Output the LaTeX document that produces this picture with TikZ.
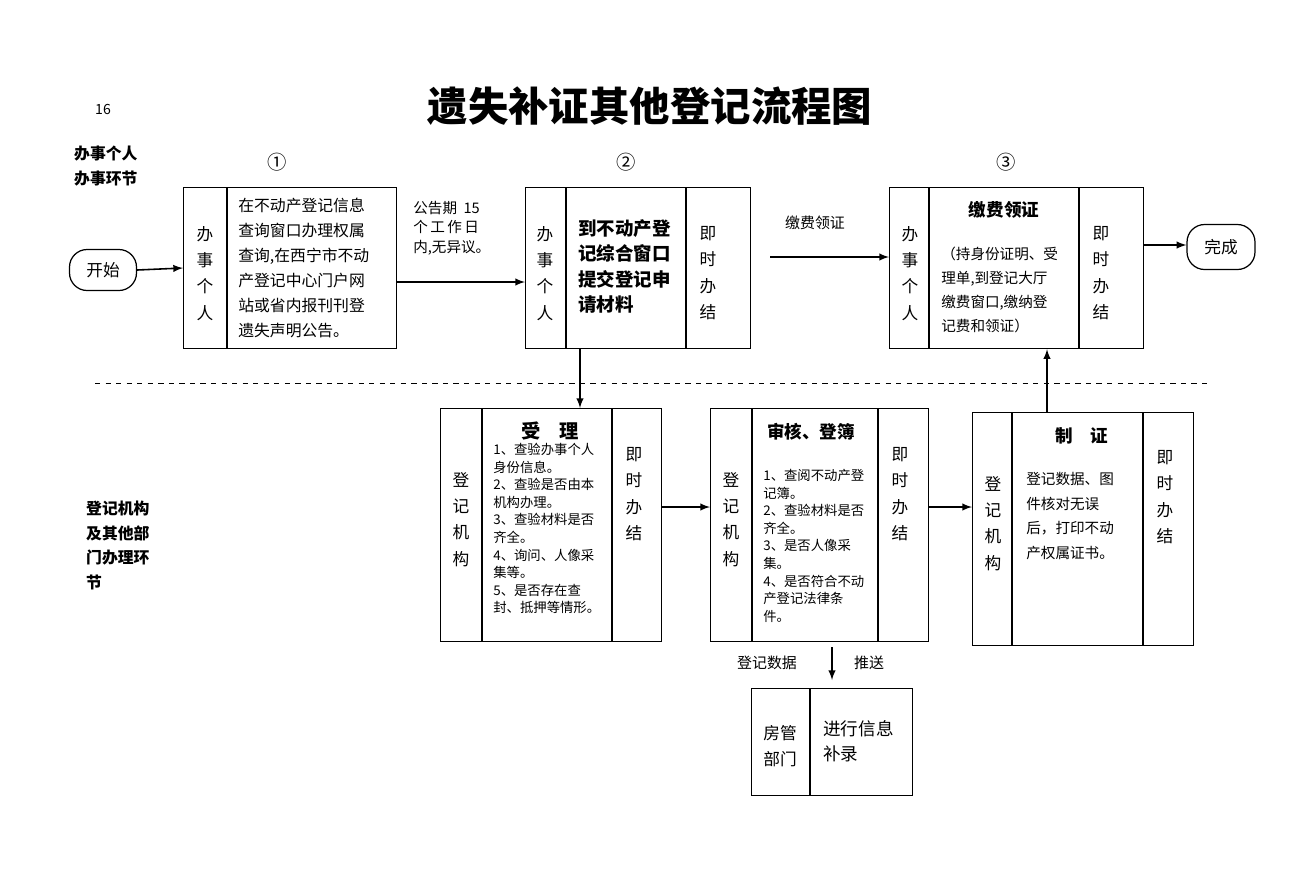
\documentclass[tikz,border=0pt]{standalone}
\usepackage{fontspec}
\setmainfont{Noto Sans CJK SC}
\begin{document}
\begin{tikzpicture}[x=0.02cm,y=-0.02cm,
  box/.style={draw,line width=0.7pt,anchor=north west,inner sep=0pt},
  term/.style={draw,line width=0.7pt,rounded corners=10pt,inner sep=0pt,font=\fontsize{9.5pt}{11pt}\selectfont},
  arr/.style={-latex,line width=0.9pt},
  vt/.style={font=\fontsize{9.5pt}{15pt}\selectfont,align=center,anchor=north},
  bt/.style={font=\fontsize{9pt}{14.2pt}\selectfont,align=left,anchor=north west,inner sep=0pt},
  st/.style={font=\fontsize{7.6pt}{10pt}\selectfont,align=left,anchor=north west,inner sep=0pt},
  hd/.style={font=\bfseries\fontsize{10pt}{12pt}\selectfont,anchor=north}]
\useasboundingbox (0,0) rectangle (1301,873);
\node[font=\bfseries\fontsize{23pt}{26pt}\selectfont] (title) at (650,106) {遗失补证其他登记流程图};
\node[font=\fontsize{8pt}{9pt}\selectfont] (pg) at (103,109) {16};
\node[font=\bfseries\fontsize{9pt}{14pt}\selectfont,align=left,anchor=north west] (l1) at (68,140) {办事个人\\办事环节};
\node[font=\bfseries\fontsize{9pt}{14pt}\selectfont,align=left,anchor=north west] (l2) at (80,495) {登记机构\\及其他部\\门办理环\\节};
\node[font=\fontsize{11pt}{12pt}\selectfont] (n1) at (277,162) {①};
\node[font=\fontsize{11pt}{12pt}\selectfont] (n2) at (626,162) {②};
\node[font=\fontsize{11pt}{12pt}\selectfont] (n3) at (1006,162) {③};
\draw[dashed,line width=0.4pt] (95,383) -- (1208,383);
% terminals
\node[term,minimum width=1.34cm,minimum height=0.82cm] (start) at (103,270) {开始};
\node[term,minimum width=1.36cm,minimum height=0.9cm] (end) at (1221,247) {完成};
% box1
\node[box,minimum width=4.26cm,minimum height=3.22cm] (b1) at (183,187) {};
\draw[line width=0.7pt] (227,187) -- (227,348);
\node[vt] (b1a) at (205,220) {办\\事\\个\\人};
\node[bt] (b1b) at (238,198) {在不动产登记信息\\查询窗口办理权属\\查询,在西宁市不动\\产登记中心门户网\\站或省内报刊刊登\\遗失声明公告。};
% box2
\node[box,minimum width=4.5cm,minimum height=3.22cm] (b2) at (525,187) {};
\draw[line width=0.7pt] (566,187) -- (566,348) (686,187) -- (686,348);
\node[vt] (b2a) at (545,220) {办\\事\\个\\人};
\node[font=\bfseries\fontsize{10.5pt}{14.5pt}\selectfont,align=left,anchor=north west,inner sep=0pt] (b2b) at (578,219) {到不动产登\\记综合窗口\\提交登记申\\请材料};
\node[vt] (b2c) at (708,220) {即\\时\\办\\结};
% box3
\node[box,minimum width=5.08cm,minimum height=3.22cm] (b3) at (889,187) {};
\draw[line width=0.7pt] (929,187) -- (929,348) (1079,187) -- (1079,348);
\node[vt] (b3a) at (910,220) {办\\事\\个\\人};
\node[hd] (b3h) at (1004,195) {缴费领证};
\node[st,font=\fontsize{8.3pt}{13.5pt}\selectfont] (b3b) at (941,247) {（持身份证明、受\\理单,到登记大厅\\缴费窗口,缴纳登\\记费和领证）};
\node[vt] (b3c) at (1101,220) {即\\时\\办\\结};
% box4
\node[box,minimum width=4.42cm,minimum height=4.66cm] (b4) at (440,408) {};
\draw[line width=0.7pt] (482,408) -- (482,641) (612,408) -- (612,641);
\node[vt] (b4a) at (461,466) {登\\记\\机\\构};
\node[hd,font=\bfseries\fontsize{11pt}{12pt}\selectfont] (b4h) at (550,416) {受\quad 理};
\node[st] (b4b) at (493,443) {1、查验办事个人\\身份信息。\\2、查验是否由本\\机构办理。\\3、查验材料是否\\齐全。\\4、询问、人像采\\集等。\\5、是否存在查\\封、抵押等情形。};
\node[vt] (b4c) at (634,441) {即\\时\\办\\结};
% box5
\node[box,minimum width=4.36cm,minimum height=4.66cm] (b5) at (710,408) {};
\draw[line width=0.7pt] (752,408) -- (752,641) (878,408) -- (878,641);
\node[vt] (b5a) at (731,466) {登\\记\\机\\构};
\node[hd] (b5h) at (811,417) {审核、登簿};
\node[st] (b5b) at (763,469) {1、查阅不动产登\\记簿。\\2、查验材料是否\\齐全。\\3、是否人像采\\集。\\4、是否符合不动\\产登记法律条\\件。};
\node[vt] (b5c) at (900,441) {即\\时\\办\\结};
% box6
\node[box,minimum width=4.42cm,minimum height=4.66cm] (b6) at (972,412) {};
\draw[line width=0.7pt] (1012,412) -- (1012,645) (1143,412) -- (1143,645);
\node[vt] (b6a) at (993,470) {登\\记\\机\\构};
\node[hd] (b6h) at (1082,421) {制\quad 证};
\node[st,font=\fontsize{8.3pt}{14pt}\selectfont] (b6b) at (1026,472) {登记数据、图\\件核对无误\\后，打印不动\\产权属证书。};
\node[vt] (b6c) at (1165,444) {即\\时\\办\\结};
% box7
\node[box,minimum width=3.22cm,minimum height=2.14cm] (b7) at (751,688) {};
\draw[line width=0.7pt] (810,688) -- (810,795);
\node[vt] (b7a) at (780,719) {房管\\部门};
\node[font=\fontsize{10pt}{14.5pt}\selectfont,align=left,anchor=north west,inner sep=0pt] (b7b) at (823,720) {进行信息\\补录};
% labels
\node[font=\fontsize{8.3pt}{11pt}\selectfont,align=left,anchor=north west,inner sep=0pt] (lab1) at (413,201) {公告期\ \ 15\\个\,工\,作\,日\\内,无异议。};
\node[font=\fontsize{8.5pt}{10pt}\selectfont] (lab2) at (815,223) {缴费领证};
\node[font=\fontsize{8.5pt}{10pt}\selectfont] (lab3) at (767,663) {登记数据};
\node[font=\fontsize{8.5pt}{10pt}\selectfont] (lab4) at (869,663) {推送};
\coordinate (c2) at (770,257);
\coordinate (c5) at (832,680);
% arrows
\draw[arr] (start.east) -- (b1.west |- 0,268);
\draw[arr] (b1.east |- 0,282) -- (b2.west |- 0,282);
\draw[arr] (c2) -- (b3.west |- c2);
\draw[arr] (b3.east |- 0,245) -- (end.west |- 0,245);
\draw[arr] (b2.south -| 580,0) -- (b4.north -| 580,0);
\draw[arr] (b4.east |- 0,507) -- (b5.west |- 0,507);
\draw[arr] (b5.east |- 0,507) -- (b6.west |- 0,507);
\draw[arr] (b6.north -| 1047,0) -- (b3.south -| 1047,0);
\draw[arr] (b5.south -| 832,0) ++(0,5) -- (c5);
\end{tikzpicture}
\end{document}
